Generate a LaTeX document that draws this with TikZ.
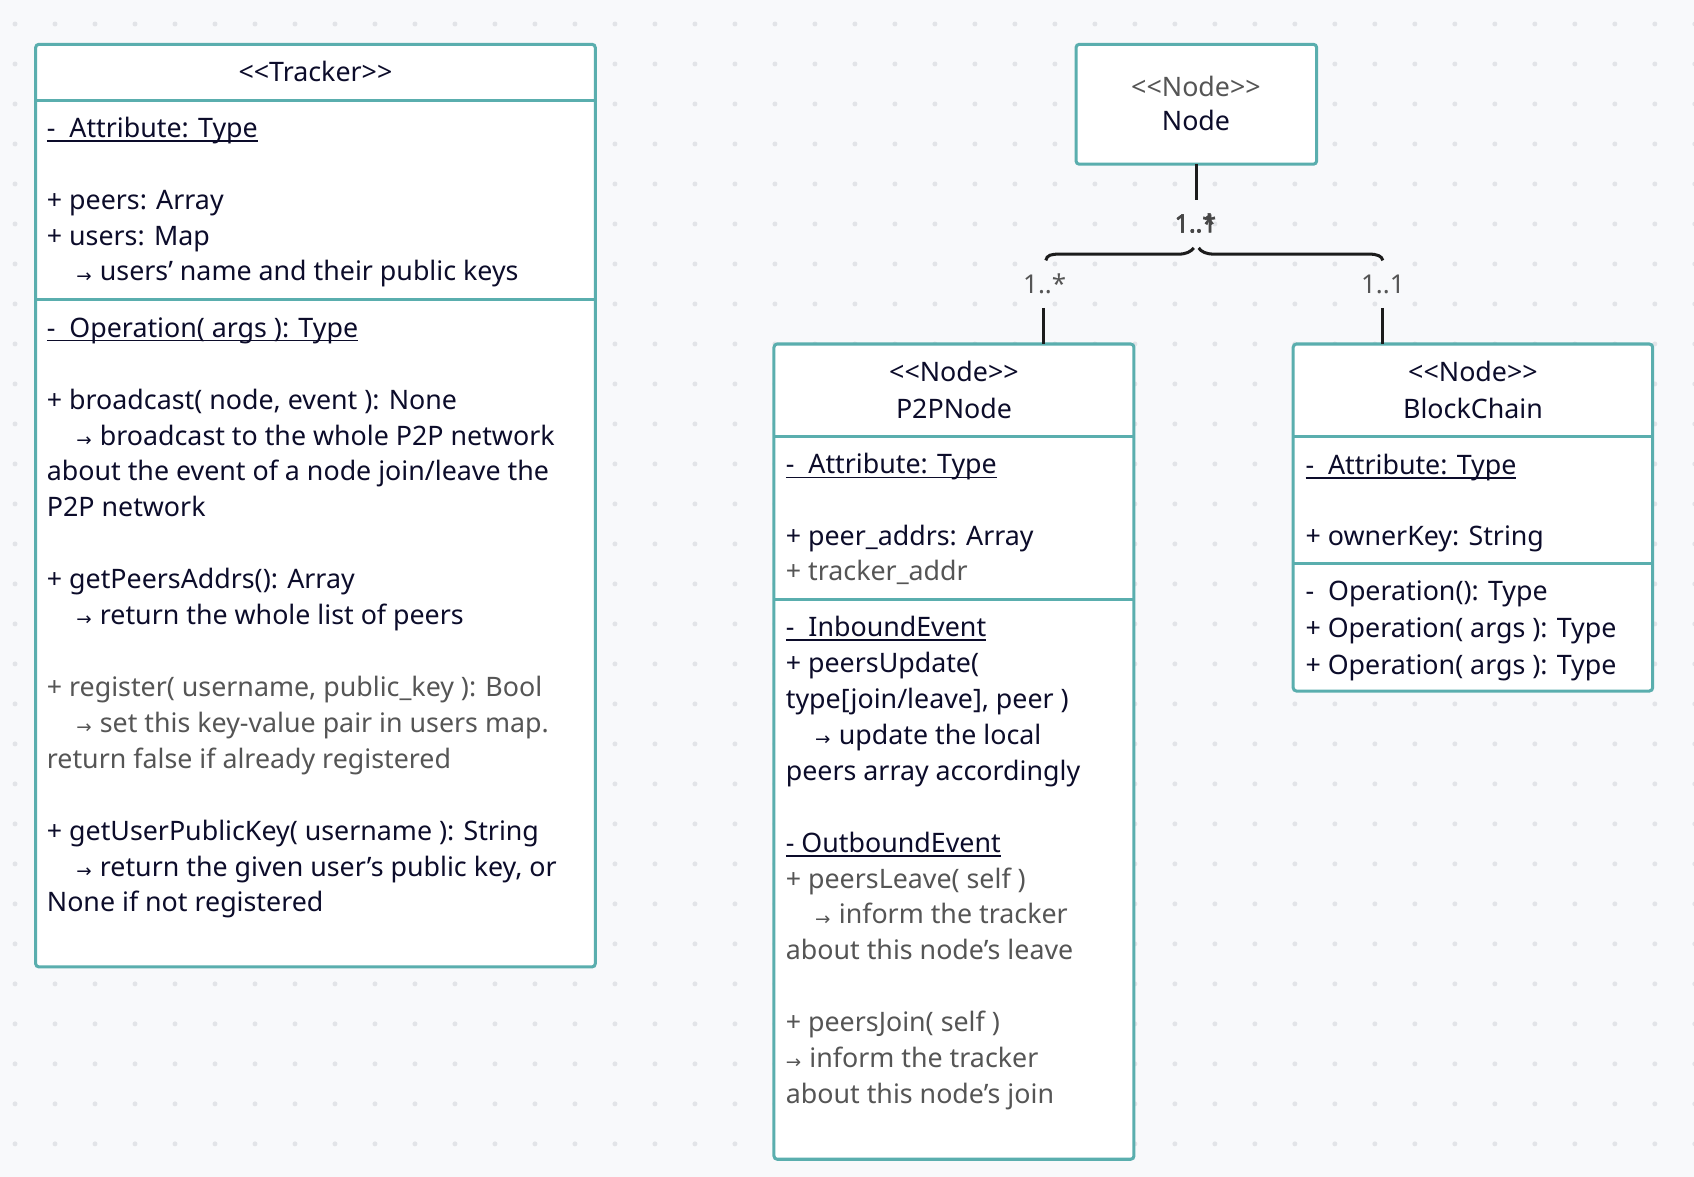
\documentclass[tikz,border=0pt]{standalone}
\usepackage{fontspec}
\setmainfont{Noto Sans}
\newfontfamily\arrowfont{DejaVu Sans}
\newfontfamily\fakebold[FakeBold=2.2]{Noto Sans}
\definecolor{bordc}{HTML}{5AAEAE}
\definecolor{ink}{HTML}{0C0C2A}
\definecolor{greyt}{HTML}{555555}
\definecolor{bgc}{HTML}{F8F9FB}
\definecolor{dotc}{HTML}{E2E4E8}
\definecolor{linec}{HTML}{1C1C1C}
\newcommand\arr{\raisebox{-0.6pt}{\arrowfont\fontsize{8.5}{8.5}\selectfont →}\hspace{3.8pt}}
\newcommand\ind{\hspace*{13.6pt}}
\newcommand\ulx[1]{\setbox0=\hbox{#1}\rlap{\rule[-2pt]{\wd0}{0.6pt}}\box0}
\newcommand\T[5]{\node[tx,#1] (#2) at (#3,#4) {#5};}
\newcommand\LL{<{}<}
\newcommand\GG{>{}>}
\begin{document}
\begin{tikzpicture}[x=0.5pt,y=-0.5pt,
  box/.style={draw=bordc,fill=white,line width=1.4pt,rounded corners=1.5pt,inner sep=0pt,outer sep=0pt,anchor=north west},
  sepl/.style={draw=bordc,line width=1.4pt},
  conn/.style={draw=linec,line width=1.4pt},
  tx/.style={anchor=base west,inner sep=0pt,text=ink,font=\fontsize{12.4}{15}\selectfont},
  hd/.style={anchor=base},
  gr/.style={text=greyt},
  mult/.style={inner sep=0pt,text=greyt,font=\fontsize{12}{14}\selectfont}]
\useasboundingbox (0,0) rectangle (1568,1089);
\fill[bgc] (0,0) rectangle (1568,1089);
\foreach \i in {0,...,42} \foreach \j in {0,...,29} \fill[dotc] ({13.9+37.02*\i},{22.2+37.02*\j}) circle (2.3);

% boxes
\node[box,minimum width=259pt,minimum height=427pt] (tracker) at (33,41) {};
\node[box,minimum width=111.35pt,minimum height=55.5pt] (node) at (996,41) {};
\node[box,minimum width=166.6pt,minimum height=377.3pt] (p2p) at (716.4,318.4) {};
\node[box,minimum width=166.35pt,minimum height=160.6pt] (bc) at (1197,318.4) {};

% separators
\draw[sepl] (tracker.west |- 0,93) -- (tracker.east |- 0,93);
\draw[sepl] (tracker.west |- 0,277) -- (tracker.east |- 0,277);
\draw[sepl] (p2p.west |- 0,403.6) -- (p2p.east |- 0,403.6);
\draw[sepl] (p2p.west |- 0,554.7) -- (p2p.east |- 0,554.7);
\draw[sepl] (bc.west |- 0,403.6) -- (bc.east |- 0,403.6);
\draw[sepl] (bc.west |- 0,521.4) -- (bc.east |- 0,521.4);

% connectors
\coordinate (nb) at (node.south |- 0,185);
\draw[conn] (node.south) -- (nb);
\coordinate (bl) at (968,241);
\coordinate (bcusp1) at (1105,229.5);
\coordinate (bcusp2) at (1109.5,229.5);
\coordinate (brr) at (1280,241);
\draw[conn] (bl) .. controls (969,236) and (973,235.2) .. (981,235.2) -- (1091,235.2) .. controls (1098,235.2) and (1102,233) .. (bcusp1);
\draw[conn] (bcusp2) .. controls (1112,233) and (1116,235.2) .. (1124,235.2) -- (1267,235.2) .. controls (1275,235.2) and (1279,237) .. (brr);
\coordinate (lt) at (966,285);
\draw[conn] (lt) -- (lt |- p2p.north);
\coordinate (rt) at (1280,285);
\draw[conn] (rt) -- (rt |- bc.north);

% multiplicities
\node[mult] (m1) at (967,263) {1..*};
\node[mult] (m2) at (1280,263) {1..1};
\node[mult,anchor=base west,text=black!72,font=\fakebold\fontsize{11.5}{13}\selectfont] (m3) at (1087,215) {1..*};
\node[mult,anchor=base west,text=black!72,font=\fakebold\fontsize{11.5}{13}\selectfont] (m4) at (1087,215) {1..1};

% Tracker text
\T{hd}{th}{292}{75}{\LL Tracker\GG}
\T{}{ta0}{43}{127}{\ulx{-\ \ Attribute: Type}}
\T{}{ta1}{43}{194}{+ peers: Array}
\T{}{ta2}{43}{227}{+ users: Map}
\T{}{ta3}{43}{260}{\ind\arr users’ name and their public keys}
\T{}{to0}{43}{312}{\ulx{-\ \ Operation( args ): Type}}
\T{}{to1}{43}{379}{+ broadcast( node, event ): None}
\T{}{to2}{43}{412}{\ind\arr broadcast to the whole P2P network}
\T{}{to3}{43}{445}{about the event of a node join/leave the}
\T{}{to4}{43}{478}{P2P network}
\T{}{to5}{43}{545}{+ getPeersAddrs(): Array}
\T{}{to6}{43}{578}{\ind\arr return the whole list of peers}
\T{gr}{to7}{43}{645}{+ register( username, public\_key ): Bool}
\T{gr}{to8}{43}{678}{\ind\arr set this key-value pair in users map.}
\T{gr}{to9}{43}{711}{return false if already registered}
\T{}{to10}{43}{778}{+ getUserPublicKey( username ): String}
\T{}{to11}{43}{811}{\ind\arr return the given user’s public key, or}
\T{}{to12}{43}{844}{None if not registered}

% Node text
\T{hd,gr}{n1}{1107}{89}{\LL Node\GG}
\T{hd}{n2}{1107}{121}{Node}

% P2PNode text
\T{hd}{p1}{883}{353}{\LL Node\GG}
\T{hd}{p2}{883}{387}{P2PNode}
\T{}{pa0}{727}{438.5}{\ulx{-\ \ Attribute: Type}}
\T{}{pa1}{727}{505}{+ peer\_addrs: Array}
\T{gr}{pa2}{727}{537.5}{+ tracker\_addr}
\T{}{pe0}{727}{589}{\ulx{-\ \ InboundEvent}}
\T{}{pe1}{727}{622}{+ peersUpdate(}
\T{}{pe2}{727}{656}{type[join/leave], peer )}
\T{}{pe3}{727}{689}{\ind\arr update the local}
\T{}{pe4}{727}{722}{peers array accordingly}
\T{}{pe5}{727}{789}{\ulx{- OutboundEvent}}
\T{gr}{pe6}{727}{822}{+ peersLeave( self )}
\T{gr}{pe7}{727}{855}{\ind\arr inform the tracker}
\T{gr}{pe8}{727}{888}{about this node’s leave}
\T{gr}{pe9}{727}{955}{+ peersJoin( self )}
\T{gr}{pe10}{727}{988}{\arr inform the tracker}
\T{gr}{pe11}{727}{1021}{about this node’s join}

% BlockChain text
\T{hd}{b1}{1363.4}{353}{\LL Node\GG}
\T{hd}{b2}{1363.4}{387}{BlockChain}
\T{}{ba0}{1208}{439}{\ulx{-\ \ Attribute: Type}}
\T{}{ba1}{1208}{505}{+ ownerKey: String}
\T{}{bo0}{1208}{556}{-\ \ Operation(): Type}
\T{}{bo1}{1208}{590}{+ Operation( args ): Type}
\T{}{bo2}{1208}{624}{+ Operation( args ): Type}
\end{tikzpicture}
\end{document}
